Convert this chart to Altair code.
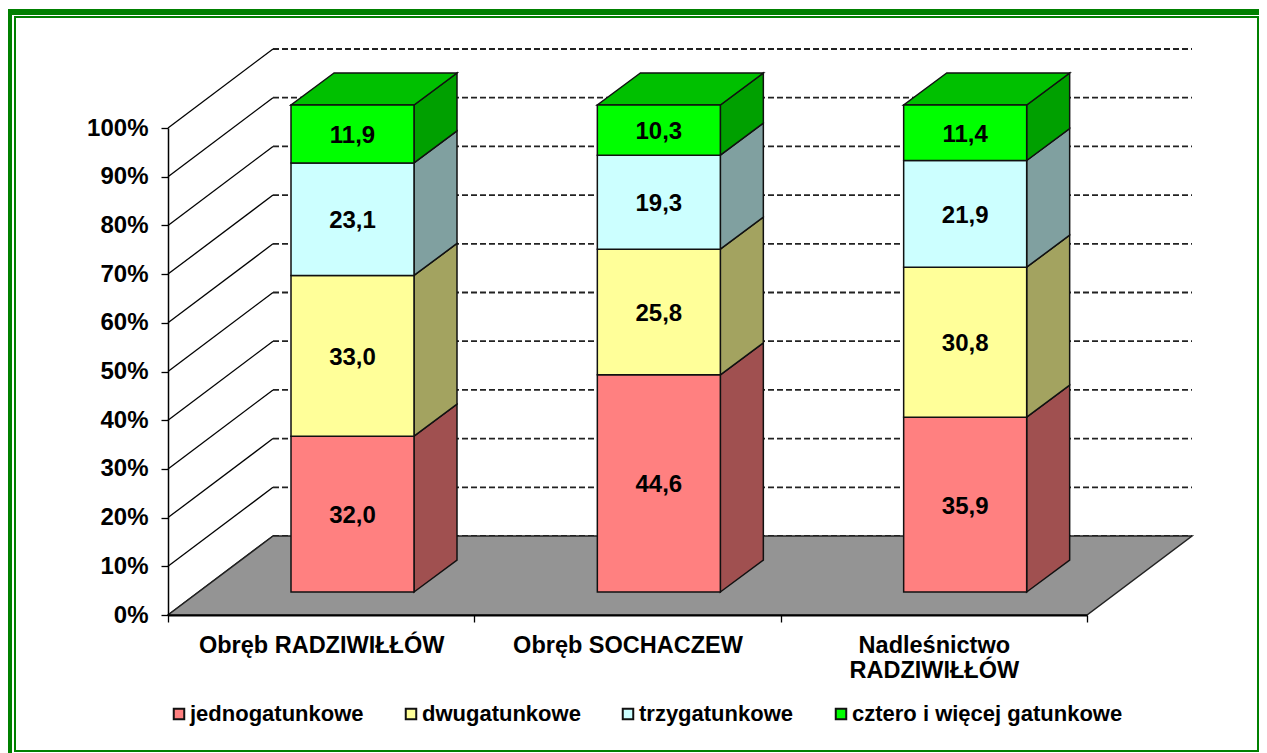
import altair as alt
import pandas as pd

# --- chart values -------------------------------------------------------
categories = ["Obręb RADZIWIŁŁÓW", "Obręb SOCHACZEW", "Nadleśnictwo RADZIWIŁŁÓW"]
series = ["jednogatunkowe", "dwugatunkowe", "trzygatunkowe", "cztero i więcej gatunkowe"]
jednogatunkowe = [32.0, 44.6, 35.9]
dwugatunkowe = [33.0, 25.8, 30.8]
trzygatunkowe = [23.1, 19.3, 21.9]
cztero = [11.9, 10.3, 11.4]
percent_ticks = [0, 10, 20, 30, 40, 50, 60, 70, 80, 90, 100]

front_colors = ["#FF8080", "#FFFF99", "#CCFFFF", "#00FF00"]
side_colors = ["#A05050", "#A3A360", "#80A0A0", "#00A000"]
top_color = "#00C000"
FONT = "Liberation Sans"

# --- geometry of the oblique projection (in scale units) ----------------
PX_X = 919 / 3      # px per category
PX_Y = 487 / 100    # px per percent
WALL_DX, WALL_DY = 105 / PX_X, 79 / PX_Y
BAR_LEFT, BAR_W = 123 / PX_X, 123 / PX_X
BAR_LIFT = 23 / PX_Y
BAR_DX, BAR_DY = 43 / PX_X, 32 / PX_Y

xs = alt.Scale(domain=[0, 3], nice=False, zero=False)
ys = alt.Scale(domain=[0, 100], nice=False, zero=False)

# --- tables -------------------------------------------------------------
front, sides, tops = [], [], []
columns = [jednogatunkowe, dwugatunkowe, trzygatunkowe, cztero]
for i in range(len(categories)):
    lo = BAR_LIFT
    x0 = i + BAR_LEFT
    x1 = x0 + BAR_W
    for s, col in enumerate(columns):
        v = col[i]
        hi = lo + v
        front.append({"series": series[s], "x": x0, "x2": x1, "y": lo, "y2": hi,
                      "mid": (lo + hi) / 2, "xm": (x0 + x1) / 2,
                      "label": f"{v:.1f}".replace(".", ",")})
        sid = f"{i}-{s}"
        sides.append({"id": sid, "x": x1, "y": lo, "y2": hi, "fill": side_colors[s]})
        sides.append({"id": sid, "x": x1 + BAR_DX, "y": lo + BAR_DY, "y2": hi + BAR_DY,
                      "fill": side_colors[s]})
        lo = hi
    tops.append({"id": i, "y": lo, "x": x0, "x2": x1})
    tops.append({"id": i, "y": lo + BAR_DY, "x": x0 + BAR_DX, "x2": x1 + BAR_DX})

front = pd.DataFrame(front)
sides = pd.DataFrame(sides)
tops = pd.DataFrame(tops)

floor = pd.DataFrame({"y": [0, WALL_DY], "x": [0, WALL_DX], "x2": [3, 3 + WALL_DX]})
diag = pd.DataFrame([{"x": 0, "x2": WALL_DX, "y": t, "y2": t + WALL_DY} for t in percent_ticks])
grid = pd.DataFrame([{"x": WALL_DX, "x2": 3 + WALL_DX, "y": t + WALL_DY} for t in percent_ticks])

# --- frame (page decoration, page pixels turned into scale units) -------
def fx(px):
    return (px - 168) / PX_X


def fy(py):
    return (615 - py) / PX_Y


boxes = [(8, 12, 9, 753), (8, 1259, 9, 15), (14, 16, 16, 752), (14, 1259, 16, 18),
         (1257, 1259, 16, 752), (14, 1259, 750, 752)]
frame = pd.DataFrame([{"x": fx(a), "x2": fx(b), "y": fy(c), "y2": fy(d)} for a, b, c, d in boxes])

# --- axes ---------------------------------------------------------------
labels_expr = ("datum.value==0.5?'Obręb RADZIWIŁŁÓW':datum.value==1.5?'Obręb SOCHACZEW':"
               "datum.value==2.5?['Nadleśnictwo','RADZIWIŁŁÓW']:''")

x_axis = alt.Axis(values=[0, 0.5, 1, 1.5, 2, 2.5, 3], labelExpr=labels_expr, title=None, grid=False,
                  tickOpacity=alt.expr("datum.value%1==0?1:0"), tickSize=7, tickColor="black",
                  tickWidth=1.3, domainColor="black", domainWidth=2, labelFont=FONT, labelFontSize=23.5,
                  labelFontWeight="bold", labelColor="black", labelPadding=11, labelOverlap=False,
                  labelBound=False, labelFlush=False, labelLineHeight=25, labelAngle=0, labelLimit=500,
                  zindex=1)
y_axis = alt.Axis(values=percent_ticks, labelExpr="datum.value+'%'", title=None, grid=False, tickSize=7,
                  tickColor="black", tickWidth=1.3, domainColor="black", domainWidth=1.5, labelFont=FONT,
                  labelFontSize=24, labelFontWeight="bold", labelColor="black", labelPadding=13,
                  labelOverlap=False, labelBound=False, labelFlush=False, zindex=1)


def X(field="x:Q"):
    return alt.X(field, scale=xs, axis=x_axis)


def Y(field="y:Q"):
    return alt.Y(field, scale=ys, axis=y_axis, stack=None)


# --- layers -------------------------------------------------------------
frame_l = alt.Chart(frame).mark_rect(color="#008000").encode(x=X(), x2="x2:Q", y=Y(), y2="y2:Q")

diag_l = alt.Chart(diag).mark_rule(color="black", strokeWidth=1.3).encode(
    x=X(), x2="x2:Q", y=Y(), y2="y2:Q")

grid_l = alt.Chart(grid).mark_rule(color="#222222", strokeWidth=1.8, strokeDash=[6, 3]).encode(
    x=X(), x2="x2:Q", y=Y())

floor_l = alt.Chart(floor).mark_area(orient="horizontal", color="#949494", stroke="#222222",
                                     strokeWidth=1.5).encode(
    y=Y(), x=X(), x2="x2:Q")

side_l = alt.Chart(sides).mark_area(stroke="#111111", strokeWidth=1.5).encode(
    x=X(), y=Y(), y2="y2:Q", color=alt.Color("fill:N", scale=None), detail="id:N")

top_l = alt.Chart(tops).mark_area(orient="horizontal", color=top_color, stroke="#111111",
                                  strokeWidth=1.5).encode(
    y=Y(), x=X(), x2="x2:Q", detail="id:N")

legend = alt.Legend(title=None, orient="none", legendX=0, legendY=575, direction="horizontal", columns=4,
                    symbolType="square", symbolSize=110, symbolStrokeColor="black", symbolStrokeWidth=2,
                    labelFont=FONT, labelFontSize=22, labelFontWeight="bold", labelColor="black",
                    labelOffset=0, columnPadding=36, labelLimit=400)

front_l = alt.Chart(front).mark_rect(stroke="#111111", strokeWidth=1.5).encode(
    x=X(), x2="x2:Q", y=Y(), y2="y2:Q",
    color=alt.Color("series:N", scale=alt.Scale(domain=series, range=front_colors), legend=legend))

text_l = alt.Chart(front).mark_text(font=FONT, fontSize=24, fontWeight="bold", color="black", dy=2).encode(
    x=X("xm:Q"), y=Y("mid:Q"), text="label:N")

chart = alt.layer(frame_l, diag_l, grid_l, floor_l, side_l, top_l, front_l, text_l).properties(
    width=919, height=487,
    padding={"left": 160, "top": 120, "right": 172, "bottom": 138},
    autosize=alt.AutoSizeParams(type="none"),
    background="white",
).configure_view(stroke=None)

chart.save("out.html", embed_options={"renderer": "svg", "actions": False})
